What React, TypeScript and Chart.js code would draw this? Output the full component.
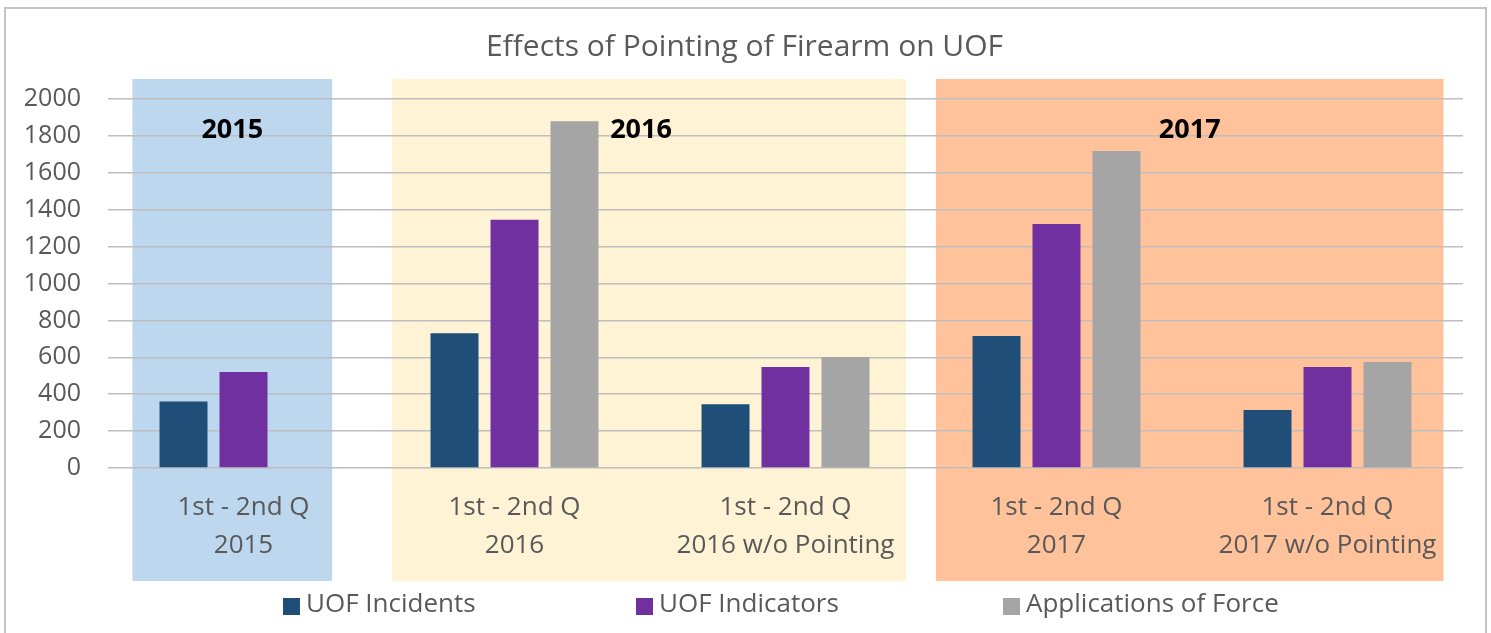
import React, { useEffect, useRef } from "react";
import { Chart, registerables } from "chart.js";

Chart.register(...registerables);

// ---- data ----
const categories: string[][] = [
  ["1st - 2nd Q", "2015"],
  ["1st - 2nd Q", "2016"],
  ["1st - 2nd Q", "2016 w/o Pointing"],
  ["1st - 2nd Q", "2017"],
  ["1st - 2nd Q", "2017 w/o Pointing"],
];
const uofIncidents = [360, 730, 345, 715, 315];
const uofIndicators = [520, 1345, 548, 1322, 548];
const applicationsOfForce: (number | null)[] = [null, 1880, 602, 1718, 574];
const seriesNames = ["UOF Incidents", "UOF Indicators", "Applications of Force"];
const yTickValues = [0, 200, 400, 600, 800, 1000, 1200, 1400, 1600, 1800, 2000];
const periodLabels = ["2015", "2016", "2017"];
const chartTitle = "Effects of Pointing of Firearm on UOF";

// ---- styles ----
const FONT = "'Open Sans', Lato, 'Liberation Sans', sans-serif";
const TEXT_GREY = "#595959";
const seriesColors = ["#1F4E79", "#7030A0", "#A5A5A5"];
const panelStyles = [
  { from: -0.41, to: 0.327, color: "#BDD7EE" },
  { from: 0.548, to: 2.445, color: "#FFF3D6" },
  { from: 2.555, to: 4.428, color: "#FFC29B" },
];
const legendX = [283, 636, 1003];

const decorPlugin = {
  id: "decor",
  beforeDraw(chart: any) {
    const { ctx, chartArea, width, height } = chart;
    const x = chart.scales.x;
    ctx.save();
    ctx.fillStyle = "#FFFFFF";
    ctx.fillRect(0, 0, width, height);
    // frame
    ctx.strokeStyle = "#C4C4C4";
    ctx.lineWidth = 2;
    ctx.strokeRect(5, 8, width - 10, height + 20);
    // panels
    panelStyles.forEach((p) => {
      const l = x.getPixelForValue(p.from);
      const r = x.getPixelForValue(p.to);
      ctx.fillStyle = p.color;
      ctx.fillRect(l, chartArea.top - 20, r - l, chartArea.bottom - chartArea.top + 133);
    });
    ctx.restore();
  },
  afterDatasetsDraw(chart: any) {
    const { ctx, chartArea, width } = chart;
    const x = chart.scales.x;
    ctx.save();
    // period labels
    ctx.fillStyle = "#000000";
    ctx.font = `bold 27px ${FONT}`;
    ctx.textAlign = "center";
    ctx.textBaseline = "middle";
    panelStyles.forEach((p, i) => {
      const l = x.getPixelForValue(p.from);
      const r = x.getPixelForValue(p.to);
      const off = i === 1 ? -8 : 0;
      ctx.fillText(periodLabels[i], (l + r) / 2 + off, chartArea.top + 31);
    });
    // title
    ctx.fillStyle = TEXT_GREY;
    ctx.font = `30px ${FONT}`;
    ctx.fillText(chartTitle, width / 2 - 1, 47);
    // legend
    ctx.font = `26px ${FONT}`;
    ctx.textAlign = "left";
    const ly = 605;
    seriesNames.forEach((name, i) => {
      ctx.fillStyle = seriesColors[i];
      ctx.fillRect(legendX[i], ly - 7, 17, 17);
      ctx.fillStyle = TEXT_GREY;
      ctx.fillText(name, legendX[i] + 23, ly);
    });
    ctx.restore();
  },
};

export default function App() {
  const ref = useRef<HTMLCanvasElement | null>(null);
  useEffect(() => {
    document.body.style.margin = "0";
    const canvas = ref.current!;
    const chart = new Chart(canvas, {
      type: "bar",
      data: {
        labels: categories,
        datasets: [uofIncidents, uofIndicators, applicationsOfForce].map((d, i) => ({
          label: seriesNames[i],
          data: d,
          backgroundColor: seriesColors[i],
          borderColor: seriesColors[i],
          borderWidth: 0,
          barPercentage: 0.8,
          categoryPercentage: 0.664,
        })),
      },
      options: {
        responsive: false,
        animation: false,
        devicePixelRatio: 1,
        layout: { padding: { top: 99, right: 28, bottom: 65, left: 0 } },
        plugins: {
          legend: { display: false },
          title: { display: false },
          tooltip: { enabled: false },
        },
        scales: {
          x: {
            grid: { display: false, drawTicks: false },
            border: { display: false },
            ticks: {
              color: TEXT_GREY,
              font: { family: FONT, size: 26, lineHeight: 38 / 26 },
              padding: 21,
              maxRotation: 0,
              autoSkip: false,
            },
            afterFit(scale: any) {
              scale.height = 100;
            },
          },
          y: {
            min: 0,
            max: 2000,
            afterBuildTicks(scale: any) {
              scale.ticks = yTickValues.map((v) => ({ value: v }));
            },
            grid: { color: "#BEBEBE", lineWidth: 1.5, drawTicks: false },
            border: { display: false },
            ticks: {
              color: TEXT_GREY,
              font: { family: FONT, size: 25 },
              padding: 27,
              callback: (v: any) => String(v),
            },
            afterFit(scale: any) {
              scale.width = 108;
            },
          },
        },
      },
      plugins: [decorPlugin],
    });
    return () => chart.destroy();
  }, []);
  return (
    <div style={{ width: 1491, height: 633 }}>
      <canvas ref={ref} width={1491} height={633} style={{ display: "block" }} />
    </div>
  );
}
